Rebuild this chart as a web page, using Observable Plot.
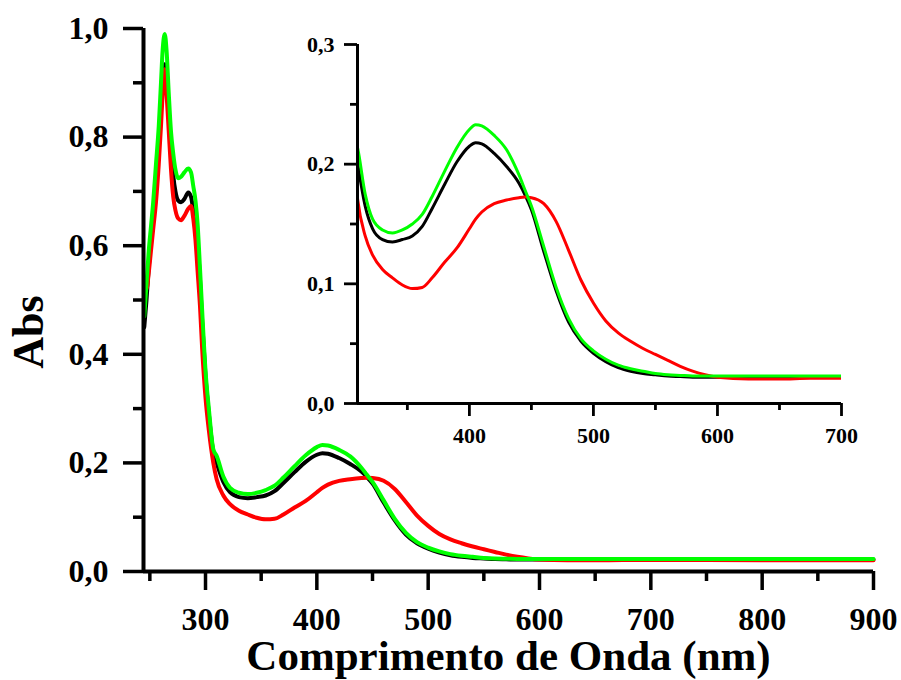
<!DOCTYPE html>
<html>
<head>
<meta charset="utf-8">
<script src="https://cdn.jsdelivr.net/npm/d3@7"></script>
<script src="https://cdn.jsdelivr.net/npm/@observablehq/plot@0.6"></script>
<style>
  html, body { margin: 0; padding: 0; background: #fff; }
  #wrap { position: relative; width: 901px; height: 680px; background: #fff; }
  #wrap > div, #wrap > svg { position: absolute; }
</style>
</head>
<body>
<div id="wrap"></div>
<script>
// ---- Data ----
const wavelength = [245, 247, 249, 251, 253, 255.5, 258, 260, 261.5, 263.4, 265, 267, 269, 271, 273, 275.5, 278, 281, 284.5, 287, 289, 291, 293, 295, 297, 300, 303, 307, 310, 316, 322, 330, 338, 346, 354, 362, 370, 380, 390, 400, 405, 410, 420, 430, 440, 445, 450, 460, 470, 480, 490, 500, 510, 520, 530, 540, 550, 560, 570, 580, 590, 600, 625, 650, 675, 700, 750, 800, 850, 900];

const absBlack = [0.45, 0.50, 0.56, 0.61, 0.65, 0.72, 0.79, 0.86, 0.91, 0.934, 0.90, 0.84, 0.78, 0.73, 0.70, 0.683, 0.68, 0.686, 0.698, 0.69, 0.665, 0.64, 0.60, 0.54, 0.46, 0.36, 0.29, 0.22, 0.20, 0.165, 0.146, 0.137, 0.135, 0.137, 0.14, 0.148, 0.163, 0.183, 0.202, 0.215, 0.218, 0.217, 0.209, 0.198, 0.184, 0.174, 0.162, 0.127, 0.094, 0.068, 0.052, 0.042, 0.035, 0.03, 0.027, 0.025, 0.024, 0.023, 0.0225, 0.022, 0.022, 0.022, 0.022, 0.022, 0.022, 0.022, 0.022, 0.022, 0.022, 0.022];

const absRed = [0.53, 0.52, 0.55, 0.59, 0.63, 0.68, 0.75, 0.82, 0.88, 0.925, 0.88, 0.81, 0.74, 0.69, 0.665, 0.65, 0.647, 0.655, 0.668, 0.673, 0.65, 0.61, 0.55, 0.49, 0.41, 0.32, 0.26, 0.2, 0.17, 0.14, 0.124, 0.112, 0.105, 0.099, 0.096, 0.097, 0.105, 0.118, 0.13, 0.146, 0.154, 0.16, 0.167, 0.17, 0.172, 0.1725, 0.172, 0.167, 0.152, 0.128, 0.103, 0.084, 0.069, 0.059, 0.052, 0.046, 0.041, 0.036, 0.031, 0.027, 0.024, 0.022, 0.0205, 0.0205, 0.021, 0.021, 0.021, 0.0205, 0.0205, 0.0205];

const absGreen = [0.47, 0.53, 0.59, 0.635, 0.68, 0.75, 0.82, 0.9, 0.96, 0.99, 0.96, 0.88, 0.81, 0.77, 0.74, 0.724, 0.727, 0.735, 0.742, 0.735, 0.71, 0.683, 0.637, 0.56, 0.48, 0.37, 0.3, 0.225, 0.213, 0.175, 0.154, 0.145, 0.1425, 0.145, 0.15, 0.158, 0.173, 0.194, 0.214, 0.229, 0.233, 0.232, 0.224, 0.212, 0.191, 0.178, 0.165, 0.131, 0.097, 0.071, 0.054, 0.044, 0.037, 0.032, 0.029, 0.027, 0.025, 0.024, 0.0235, 0.023, 0.023, 0.023, 0.023, 0.023, 0.023, 0.023, 0.023, 0.023, 0.023, 0.023];

const seriesColors = ["#000000", "#ff0000", "#00ff00"];

const mainXMajor = [300, 400, 500, 600, 700, 800, 900];
const mainXMinor = [250, 350, 450, 550, 650, 750, 850];
const mainYMajor = [0, 0.2, 0.4, 0.6, 0.8, 1.0];
const mainYMinor = [0.1, 0.3, 0.5, 0.7, 0.9];

const insetXMajor = [400, 500, 600, 700];
const insetXMinor = [350, 450, 550, 650];
const insetYMajor = [0, 0.1, 0.2, 0.3];
const insetYMinor = [0.05, 0.15, 0.25];

const xTitle = "Comprimento de Onda (nm)";
const yTitle = "Abs";

// ---- Helpers ----
const FONT = "'Liberation Serif', 'Times New Roman', Times, serif";
const fmt = d => d.toFixed(1).replace(".", ",");
const series = [absBlack, absRed, absGreen];
const rowsFor = (vals, minW) => wavelength
  .map((w, i) => ({w, a: vals[i]}))
  .filter(d => d.w >= minW);

// ---- Main chart ----
const mainMarks = [
  ...series.map((vals, k) => Plot.line(rowsFor(vals, 0), {
    x: "w", y: "a", stroke: seriesColors[k], strokeWidth: 4, curve: "monotone-x"
  })),
  Plot.axisY({ticks: mainYMinor, tickSize: 10, tickFormat: () => "", strokeWidth: 3.5, label: null}),
  Plot.axisY({ticks: mainYMajor, tickSize: 20, tickPadding: 15, tickFormat: fmt, strokeWidth: 3.5,
    fontSize: 32, fontWeight: "bold", label: null}),
  Plot.axisX({ticks: mainXMinor, tickSize: 10, tickFormat: () => "", strokeWidth: 3.5, label: null}),
  Plot.axisX({ticks: mainXMajor, tickSize: 19, tickPadding: 17, tickFormat: d => String(d), strokeWidth: 3.5,
    fontSize: 32, fontWeight: "bold", label: null}),
  Plot.ruleX([244.3], {strokeWidth: 4}),
  Plot.ruleY([0], {strokeWidth: 4}),
  Plot.text([xTitle], {text: d => d, frameAnchor: "bottom", dy: 98, lineAnchor: "bottom",
    textAnchor: "middle", fontSize: 43, fontWeight: "bold"}),
  Plot.text([yTitle], {text: d => d, frameAnchor: "left", dx: -101, dy: 32, rotate: -90,
    textAnchor: "middle", lineAnchor: "bottom", fontSize: 44, fontWeight: "bold"})
];

const main = Plot.plot({
  width: 901,
  height: 680,
  marginLeft: 143,
  marginRight: 28,
  marginTop: 28,
  marginBottom: 109,
  x: {domain: [244.3, 900]},
  y: {domain: [0, 1]},
  style: {fontFamily: FONT, color: "#000", background: "transparent", overflow: "visible"},
  marks: mainMarks
});
main.style.left = "0px";
main.style.top = "0px";

// ---- Inset chart ----
const insetMarks = [
  ...series.map((vals, k) => Plot.line(rowsFor(vals, 303), {
    x: "w", y: "a", stroke: seriesColors[k], strokeWidth: 3, curve: "monotone-x", clip: true
  })),
  Plot.axisY({ticks: insetYMinor, tickSize: 7, tickFormat: () => "", strokeWidth: 2.8, label: null}),
  Plot.axisY({ticks: insetYMajor, tickSize: 13, tickPadding: 10, tickFormat: fmt, strokeWidth: 2.8,
    fontSize: 22, fontWeight: "bold", label: null}),
  Plot.axisX({ticks: insetXMinor, tickSize: 7, tickFormat: () => "", strokeWidth: 2.8, label: null}),
  Plot.axisX({ticks: insetXMajor, tickSize: 13, tickPadding: 11, tickFormat: d => String(d), strokeWidth: 2.8,
    fontSize: 22, fontWeight: "bold", label: null}),
  Plot.ruleX([309.8], {strokeWidth: 3}),
  Plot.ruleY([0], {strokeWidth: 3})
];

const inset = Plot.plot({
  width: 580,
  height: 440,
  marginLeft: 67,
  marginRight: 29,
  marginTop: 24,
  marginBottom: 57,
  x: {domain: [309.8, 700]},
  y: {domain: [0, 0.3]},
  style: {fontFamily: FONT, color: "#000", background: "transparent", overflow: "visible"},
  marks: insetMarks
});
inset.style.left = "290px";
inset.style.top = "20px";

const wrap = document.getElementById("wrap");
wrap.appendChild(main);
wrap.appendChild(inset);
</script>
</body>
</html>
